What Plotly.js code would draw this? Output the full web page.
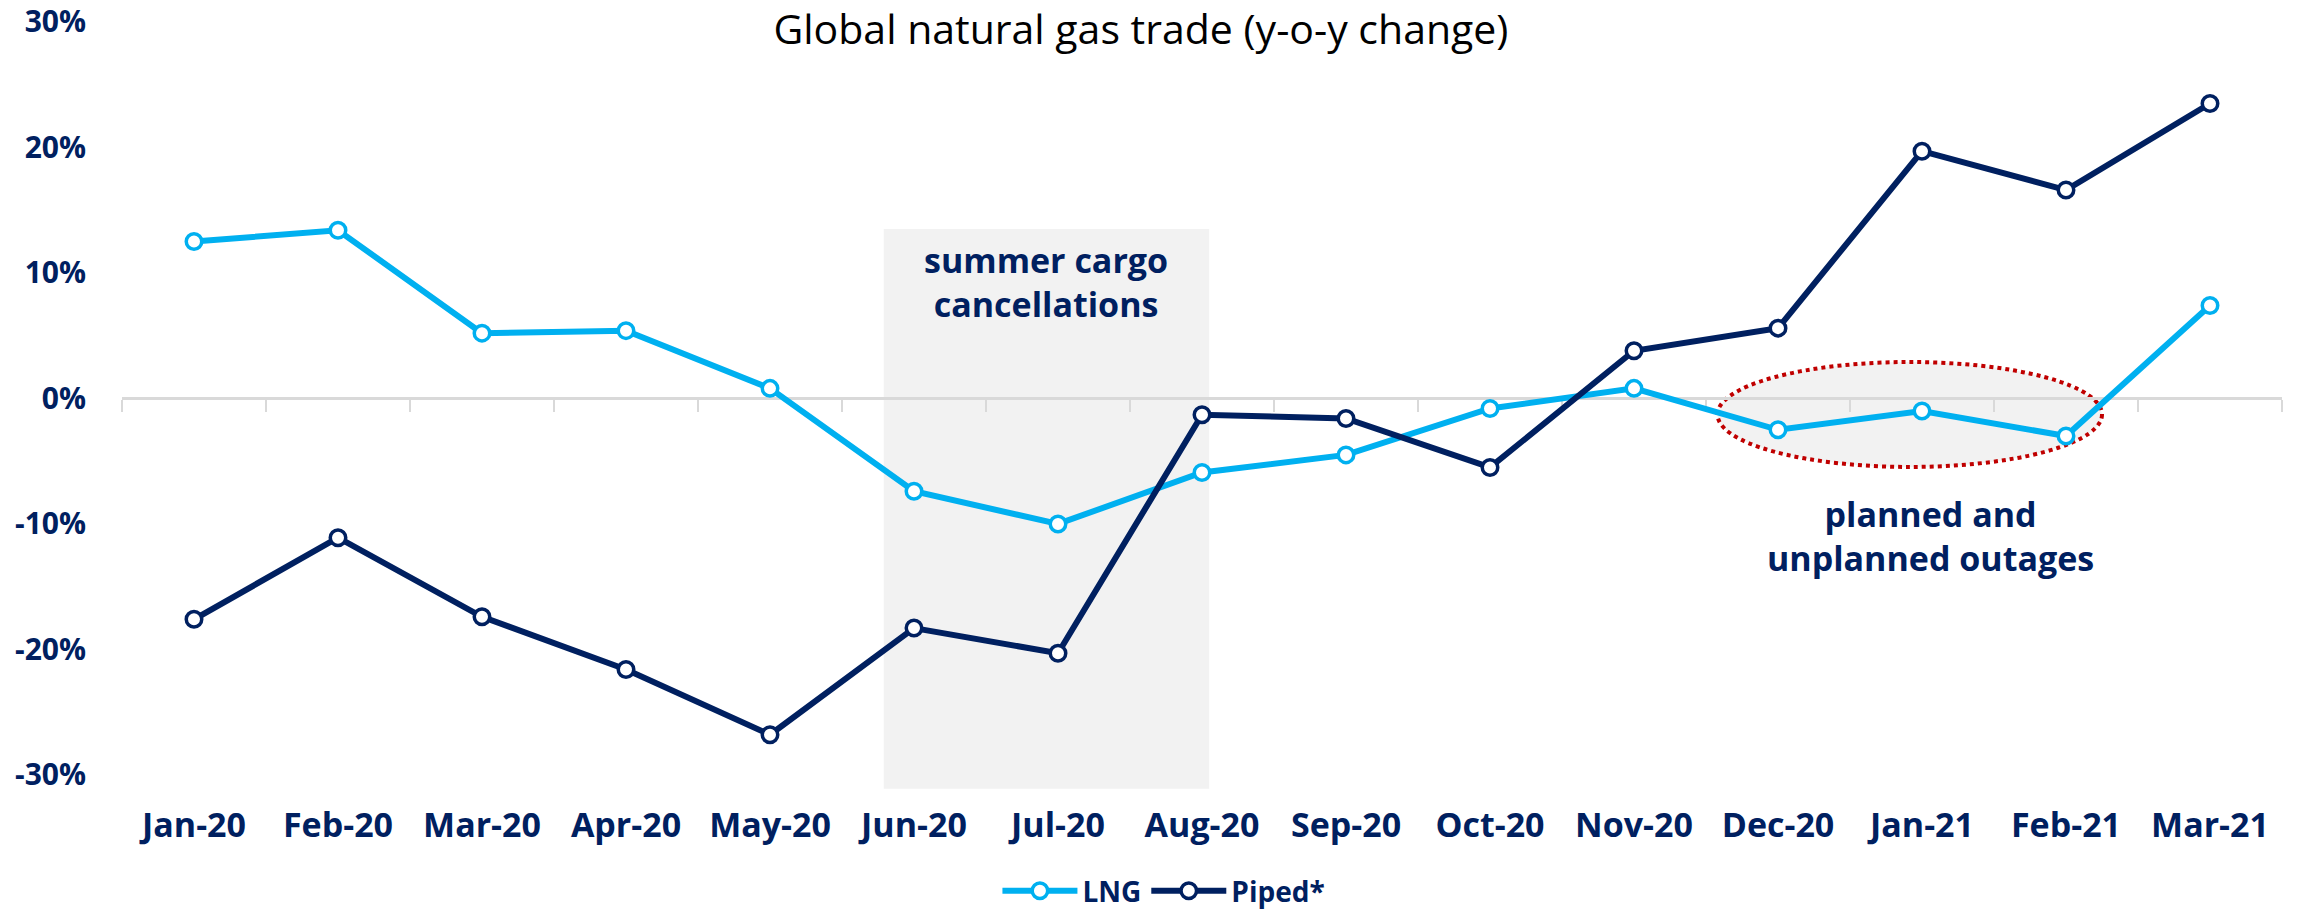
<!DOCTYPE html>
<html>
<head>
<meta charset="utf-8">
<script src="https://cdn.plot.ly/plotly-3.0.1.min.js"></script>
<style>html,body{margin:0;padding:0;background:#fff;}#chart{width:2298px;height:911px;}</style>
</head>
<body>
<div id="chart"></div>
<script>
// ---- data (y-o-y change, %) ----
const months = ['Jan-20','Feb-20','Mar-20','Apr-20','May-20','Jun-20','Jul-20','Aug-20','Sep-20','Oct-20','Nov-20','Dec-20','Jan-21','Feb-21','Mar-21'];
const lng    = [12.5, 13.4, 5.2, 5.4, 0.8, -7.4, -10.0, -5.9, -4.5, -0.8, 0.8, -2.5, -1.0, -3.0, 7.4];
const piped  = [-17.6, -11.1, -17.4, -21.6, -26.8, -18.3, -20.3, -1.3, -1.6, -5.5, 3.8, 5.6, 19.7, 16.6, 23.5];
const yTickVals   = [-30, -20, -10, 0, 10, 20, 30];
const yTickLabels = ['-30%', '-20%', '-10%', '0%', '10%', '20%', '30%'];
const seriesNames = ['LNG', 'Piped*'];
const titleText = 'Global natural gas trade (y-o-y change)';
const noteSummer = 'summer cargo<br>cancellations';
const noteOutages = 'planned and<br>unplanned outages';

const NAVY = '#002060', CYAN = '#00B0F0', GRID = '#D9D9D9';
const yMin = -31.2, yMax = 30.15;

const marker = c => ({symbol: 'circle', size: 15.5, color: '#ffffff', line: {color: c, width: 3.5}});
const idx = months.map((_, i) => i);
const boundaries = months.map((_, i) => i - 0.5).concat([months.length - 0.5]);

const traces = [
  {x: months, y: lng, name: seriesNames[0], type: 'scatter', mode: 'lines+markers',
   line: {color: CYAN, width: 6}, marker: marker(CYAN)},
  {x: months, y: piped, name: seriesNames[1], type: 'scatter', mode: 'lines+markers',
   line: {color: NAVY, width: 6}, marker: marker(NAVY)},
  // invisible helper trace so the category-boundary tick axis is drawn
  {x: idx, y: lng, xaxis: 'x2', yaxis: 'y', type: 'scatter', mode: 'lines',
   line: {width: 0}, opacity: 0, showlegend: false, hoverinfo: 'skip'}
];

const layout = {
  width: 2298, height: 911,
  paper_bgcolor: '#ffffff', plot_bgcolor: 'rgba(0,0,0,0)',
  margin: {l: 122, r: 16, t: 20, b: 121, pad: 0},
  font: {family: 'Open Sans, Noto Sans, sans-serif', color: NAVY},
  title: {text: titleText, font: {family: 'Open Sans', size: 41, color: '#000000'},
          xref: 'container', yref: 'container', x: 0.4965, y: 0.967, xanchor: 'center', yanchor: 'middle'},
  showlegend: true,
  legend: {orientation: 'h', xref: 'container', yref: 'container', x: 0.5065, y: 0.022,
           xanchor: 'center', yanchor: 'middle', itemwidth: 75,
           font: {family: 'Open Sans', size: 28, color: NAVY, weight: 'bold'}},
  xaxis: {type: 'category', categoryarray: months, categoryorder: 'array', range: [-0.5, months.length - 0.5],
          showline: false, showgrid: false, zeroline: false,
          ticks: 'outside', ticklen: 5, tickcolor: 'rgba(0,0,0,0)',
          tickfont: {family: 'Open Sans', size: 34, color: NAVY, weight: 'bold'}, fixedrange: true},
  xaxis2: {overlaying: 'x', anchor: 'free', position: (0 - yMin) / (yMax - yMin), side: 'bottom',
           type: 'linear', range: [-0.5, months.length - 0.5], tickmode: 'array', tickvals: boundaries,
           showticklabels: false, ticks: 'outside', ticklen: 12, tickwidth: 2.5, tickcolor: GRID,
           showline: true, linecolor: GRID, linewidth: 3, showgrid: false, zeroline: false, layer: 'below traces'},
  yaxis: {range: [yMin, yMax], tickmode: 'array', tickvals: yTickVals, ticktext: yTickLabels,
          showgrid: false, zeroline: false, showline: false, ticklabeloverflow: 'allow',
          ticks: 'outside', ticklen: 29, tickcolor: 'rgba(0,0,0,0)',
          tickfont: {family: 'Open Sans', size: 30, color: NAVY, weight: 'bold'}},
  shapes: [
    {type: 'rect', xref: 'x', yref: 'y', x0: 4.79, x1: 7.05, y0: -31.1, y1: 13.5,
     fillcolor: '#F2F2F2', line: {width: 0}, layer: 'below'},
    {type: 'circle', xref: 'x', yref: 'y', x0: 10.58, x1: 13.25, y0: -5.46, y1: 2.9,
     fillcolor: '#F2F2F2', line: {color: '#C00000', width: 4, dash: 'dot'}, layer: 'below'}
  ],
  annotations: [
    {text: noteSummer, xref: 'x', yref: 'y', x: 5.92, y: 9.25, showarrow: false, xanchor: 'center', yanchor: 'middle',
     font: {family: 'Open Sans', size: 34, color: NAVY, weight: 'bold'}},
    {text: noteOutages, xref: 'x', yref: 'y', x: 12.06, y: -11.0, showarrow: false, xanchor: 'center', yanchor: 'middle',
     font: {family: 'Open Sans', size: 34, color: NAVY, weight: 'bold'}}
  ]
};

Plotly.newPlot('chart', traces, layout, {displayModeBar: false, staticPlot: true});
</script>
</body>
</html>
